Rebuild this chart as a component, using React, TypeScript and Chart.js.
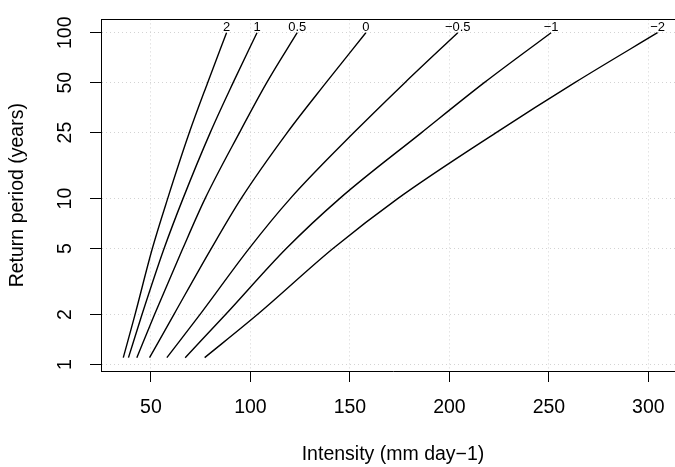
import React, { useEffect, useRef } from "react";
import { Chart, registerables } from "chart.js";

Chart.register(...registerables);

// Return periods (years) at which each curve was read
const RETURN_PERIODS = [1.1, 2, 5, 10, 25, 50, 100];

// Curve labels (shape parameter)
const CURVE_LABELS = ["2", "1", "0.5", "0", "\u22120.5", "\u22121", "\u22122"];

// Intensity (mm day-1) for each curve at the return periods above
const INTENSITY_2 = [36.1, 42.0, 50.7, 58.4, 69.3, 78.5, 88.0];
const INTENSITY_1 = [38.7, 45.5, 56.6, 66.1, 79.8, 91.3, 103.3];
const INTENSITY_05 = [42.9, 51.8, 66.0, 77.2, 94.5, 108.2, 123.5];
const INTENSITY_0 = [49.3, 61.5, 80.3, 95.3, 118.5, 138.0, 158.0];
const INTENSITY_M05 = [58.0, 74.6, 99.3, 120.0, 152.0, 177.6, 204.2];
const INTENSITY_M1 = [67.2, 87.5, 118.0, 144.8, 186.0, 217.5, 251.1];
const INTENSITY_M2 = [77.0, 103.5, 141.5, 174.0, 223.5, 263.0, 304.6];

const CURVES = [
  INTENSITY_2,
  INTENSITY_1,
  INTENSITY_05,
  INTENSITY_0,
  INTENSITY_M05,
  INTENSITY_M1,
  INTENSITY_M2,
];

const X_TICKS = [50, 100, 150, 200, 250, 300];
const Y_TICKS = [1, 2, 5, 10, 25, 50, 100];

const FONT = "'Liberation Sans', Arial, Helvetica, sans-serif";

const endLabelsPlugin = {
  id: "endLabels",
  afterDatasetsDraw(chart: any) {
    const ctx = chart.ctx;
    ctx.save();
    ctx.fillStyle = "#000";
    ctx.font = `13px ${FONT}`;
    ctx.textAlign = "center";
    ctx.textBaseline = "alphabetic";
    chart.data.datasets.forEach((ds: any, i: number) => {
      const meta = chart.getDatasetMeta(i);
      const last = meta.data[meta.data.length - 1];
      if (!last) return;
      ctx.fillText(ds.label, last.x, last.y - 1.5);
    });
    ctx.restore();
  },
};

// Top edge of the plot box (left and bottom come from the axis borders)
const topEdgePlugin = {
  id: "topEdge",
  afterDraw(chart: any) {
    const { ctx, chartArea } = chart;
    const y = Math.round(chartArea.top) + 0.5;
    ctx.save();
    ctx.strokeStyle = "#000";
    ctx.lineWidth = 1;
    ctx.beginPath();
    ctx.moveTo(Math.round(chartArea.left), y);
    ctx.lineTo(Math.round(chartArea.right), y);
    ctx.stroke();
    ctx.restore();
  },
};

export default function App() {
  const canvasRef = useRef<HTMLCanvasElement | null>(null);

  useEffect(() => {
    const canvas = canvasRef.current;
    if (!canvas) return;

    const datasets = CURVES.map((curve, i) => ({
      label: CURVE_LABELS[i],
      data: curve.map((x, j) => ({ x, y: RETURN_PERIODS[j] })),
      borderColor: "#000",
      borderWidth: 1.4,
      pointRadius: 0,
      fill: false,
      cubicInterpolationMode: "monotone" as const,
    }));

    const chart = new Chart(canvas, {
      type: "line",
      data: { datasets },
      options: {
        responsive: false,
        animation: false,
        devicePixelRatio: 1,
        layout: { padding: { left: 0, top: 10, right: 35, bottom: 0 } },
        plugins: {
          legend: { display: false },
          tooltip: { enabled: false },
        },
        scales: {
          x: {
            type: "linear",
            position: "bottom",
            min: 24.9,
            max: 318.4,
            afterBuildTicks: (s: any) => {
              s.ticks = X_TICKS.map((v) => ({ value: v }));
            },
            afterFit: (s: any) => {
              s.height = 96;
            },
            grid: {
              color: "#D3D3D3",
              lineWidth: 1,
              drawTicks: true,
              tickLength: 11,
              tickColor: "#000",
              tickWidth: 1,
              tickBorderDash: [],
            },
            border: { display: true, color: "#000", width: 1, dash: [1, 3] },
            ticks: {
              color: "#000",
              font: { family: FONT, size: 19.5 },
              padding: 13.8,
              maxRotation: 0,
              minRotation: 0,
              autoSkip: false,
              callback: (v: any) => String(v),
            },
            title: {
              display: true,
              text: "Intensity (mm day\u22121)",
              color: "#000",
              font: { family: FONT, size: 19.5 },
              padding: { top: 0, bottom: 0.3 },
            },
          },
          y: {
            type: "logarithmic",
            position: "left",
            min: 0.914,
            max: 120.3,
            afterBuildTicks: (s: any) => {
              s.ticks = Y_TICKS.map((v) => ({ value: v }));
            },
            afterFit: (s: any) => {
              s.width = 101;
            },
            grid: {
              color: "#D3D3D3",
              lineWidth: 1,
              drawTicks: true,
              tickLength: 11,
              tickColor: "#000",
              tickWidth: 1,
              tickBorderDash: [],
            },
            border: { display: true, color: "#000", width: 1, dash: [1, 3] },
            ticks: {
              color: "#000",
              font: { family: FONT, size: 19.5 },
              padding: 7.7,
              minRotation: 90,
              maxRotation: 90,
              crossAlign: "center",
              autoSkip: false,
              callback: (v: any) => String(v),
            },
            title: {
              display: true,
              text: "Return period (years)",
              color: "#000",
              font: { family: FONT, size: 19.5 },
              padding: { top: 6.3, bottom: 0 },
            },
          },
        },
      } as any,
      plugins: [endLabelsPlugin, topEdgePlugin],
    });

    return () => {
      chart.destroy();
    };
  }, []);

  return (
    <div
      style={{
        position: "fixed",
        left: 0,
        top: 0,
        width: 675,
        height: 467,
        overflow: "hidden",
        background: "#fff",
      }}
    >
      <canvas ref={canvasRef} width={720} height={467} style={{ display: "block" }} />
    </div>
  );
}
